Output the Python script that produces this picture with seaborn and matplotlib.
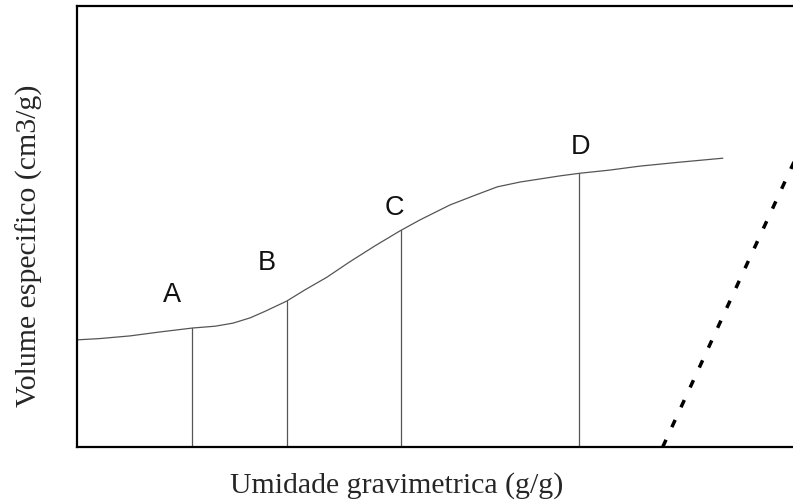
import numpy as np
import pandas as pd
import matplotlib
matplotlib.use('Agg')
import matplotlib.pyplot as plt
import seaborn as sns

# curve of specific volume vs gravimetric moisture
curve_x = [0.00, 0.32, 0.74, 1.16, 1.62, 1.93, 2.18, 2.42, 2.63, 2.93, 3.18, 3.49, 3.81,
           4.16, 4.51, 4.79, 5.21, 5.56, 5.87, 6.19, 6.47, 6.75, 7.03, 7.44, 7.86, 8.42, 9.02]
curve_y = [2.43, 2.46, 2.52, 2.61, 2.70, 2.74, 2.81, 2.93, 3.08, 3.31, 3.56, 3.85, 4.20,
           4.56, 4.90, 5.15, 5.49, 5.71, 5.90, 6.01, 6.08, 6.15, 6.21, 6.28, 6.37, 6.46, 6.55]

# points A-D with vertical drop lines
point_names = ['A', 'B', 'C', 'D']
point_x = [1.61, 2.93, 4.53, 7.01]
point_top = [2.70, 3.31, 4.92, 6.21]
label_x = [1.33, 2.65, 4.43, 7.03]
label_y = [3.45, 4.17, 5.42, 6.80]

# saturation line (dotted)
sat_x = [8.18, 10.2]
sat_y = [0.0, 7.12]

sns.set_style('white')

fig = plt.figure(figsize=(7.93, 5.04), dpi=100)
ax = fig.add_axes([0.097, 0.113, 0.903, 0.875])

df = pd.DataFrame({'x': curve_x, 'y': curve_y})
sns.lineplot(data=df, x='x', y='y', ax=ax, color='#555555', linewidth=0.9,
             sort=False, estimator=None)

for px, top in zip(point_x, point_top):
    sns.lineplot(x=[px, px], y=[0, top], ax=ax, color='#555555', linewidth=0.9,
                 sort=False, estimator=None)

for name, lx, ly in zip(point_names, label_x, label_y):
    ax.text(lx, ly, name, fontsize=19.5, ha='center', va='center',
            family=['Liberation Sans', 'DejaVu Sans'], color='#111111')

sns.lineplot(x=sat_x, y=sat_y, ax=ax, color='black', linewidth=2.5,
             linestyle=(0, (2.3, 4.0)), sort=False, estimator=None)

ax.set_xlim(0, 10)
ax.set_ylim(0, 10)
ax.set_xticks([])
ax.set_yticks([])
for s in ['left', 'top', 'bottom']:
    ax.spines[s].set_linewidth(1.6)
    ax.spines[s].set_color('black')
ax.spines['right'].set_visible(False)

ax.set_xlabel('Umidade gravimetrica (g/g)', fontsize=21.5, family='Liberation Serif')
ax.set_ylabel('Volume especifico (cm3/g)', fontsize=21.5, family='Liberation Serif')
ax.xaxis.set_label_coords(0.447, -0.057)
ax.yaxis.set_label_coords(-0.048, 0.457)

fig.savefig('out.png', dpi=100)
